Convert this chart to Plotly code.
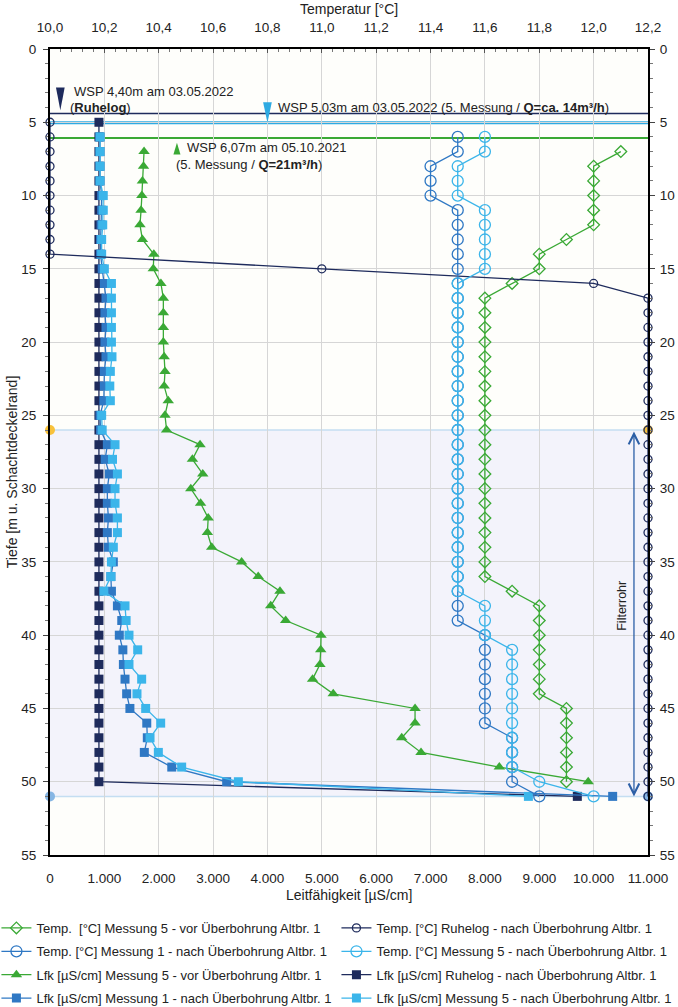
import plotly.graph_objects as go

# ---------------- data ----------------
depth_ruhe = [5, 6, 7, 8, 9, 10, 11, 12, 13, 14, 15, 16, 17, 18, 19, 20, 21, 22, 23, 24, 25, 26, 27, 28,
              29, 30, 31, 32, 33, 34, 35, 36, 37, 38, 39, 40, 41, 42, 43, 44, 45, 46, 47, 48, 49, 50, 51]
depth_nach = [6, 7, 8, 9, 10, 11, 12, 13, 14, 15, 16, 17, 18, 19, 20, 21, 22, 23, 24, 25, 26, 27, 28,
              29, 30, 31, 32, 33, 34, 35, 36, 37, 38, 39, 40, 41, 42, 43, 44, 45, 46, 47, 48, 49, 50, 51]
depth_vor = [7, 8, 9, 10, 11, 12, 13, 14, 15, 16, 17, 18, 19, 20, 21, 22, 23, 24, 25, 26, 27, 28,
             29, 30, 31, 32, 33, 34, 35, 36, 37, 38, 39, 40, 41, 42, 43, 44, 45, 46, 47, 48, 49, 50]

# Temperatur [°C]
temp_m5_vor = [12.1, 12.0, 12.0, 12.0, 12.0, 12.0, 11.9, 11.8, 11.8, 11.7,
               11.6, 11.6, 11.6, 11.6, 11.6, 11.6, 11.6, 11.6, 11.6, 11.6,
               11.6, 11.6, 11.6, 11.6, 11.6, 11.6, 11.6, 11.6, 11.6, 11.6,
               11.7, 11.8, 11.8, 11.8, 11.8, 11.8, 11.8, 11.8,
               11.9, 11.9, 11.9, 11.9, 11.9, 11.9]
temp_ruhe = [10.0, 10.0, 10.0, 10.0, 10.0, 10.0, 10.0, 10.0, 10.0, 10.0, 11.0, 12.0,
             12.2, 12.2, 12.2, 12.2, 12.2, 12.2, 12.2, 12.2, 12.2, 12.2, 12.2, 12.2,
             12.2, 12.2, 12.2, 12.2, 12.2, 12.2, 12.2, 12.2, 12.2, 12.2, 12.2, 12.2,
             12.2, 12.2, 12.2, 12.2, 12.2, 12.2, 12.2, 12.2, 12.2, 12.2, 12.2]
temp_m1_nach = [11.5, 11.5, 11.4, 11.4, 11.4, 11.5, 11.5, 11.5, 11.5, 11.5, 11.5,
                11.5, 11.5, 11.5, 11.5, 11.5, 11.5, 11.5, 11.5, 11.5, 11.5, 11.5,
                11.5, 11.5, 11.5, 11.5, 11.5, 11.5, 11.5, 11.5, 11.5, 11.5, 11.5, 11.5,
                11.6, 11.6, 11.6, 11.6, 11.6, 11.6, 11.6,
                11.7, 11.7, 11.7, 11.7, 11.8]
temp_m5_nach = [11.6, 11.6, 11.5, 11.5, 11.5, 11.6, 11.6, 11.6, 11.6, 11.6,
                11.5, 11.5, 11.5, 11.5, 11.5, 11.5, 11.5, 11.5, 11.5, 11.5, 11.5,
                11.5, 11.5, 11.5, 11.5, 11.5, 11.5, 11.5, 11.5, 11.5, 11.5, 11.5,
                11.6, 11.6, 11.6,
                11.7, 11.7, 11.7, 11.7, 11.7, 11.7, 11.7, 11.7, 11.7,
                11.8, 12.0]

# Leitfähigkeit [µS/cm]
lfk_m5_vor = [1730, 1720, 1700, 1690, 1675, 1655, 1700, 1910, 1900, 2040,
              2085, 2085, 2085, 2085, 2100, 2115, 2100, 2175, 2115, 2145,
              2760, 2620, 2810, 2590, 2770, 2910, 2895, 2975, 3525, 3830,
              4230, 4060, 4335, 4985, 4980, 4965, 4830, 5210, 6715, 6715,
              6470, 6825, 8265, 9900]
lfk_ruhe = [900, 900, 900, 900, 900, 900, 900, 900, 900, 900, 900, 900,
            900, 900, 900, 900, 900, 900, 900, 900, 900, 900, 900, 900,
            900, 900, 900, 900, 900, 900, 900, 900, 900, 900, 900, 900,
            900, 900, 900, 900, 900, 900, 900, 900, 900, 900, 9700]
lfk_m1_nach = [920, 920, 920, 920, 950, 950, 940, 930, 930, 960,
               1000, 1030, 1010, 1030, 1010, 1030, 1000, 1000, 990, 920,
               930, 1055, 1015, 1090, 1055, 1055, 1075, 1055, 1075, 1165,
               1120, 1130, 1240, 1320, 1275, 1340, 1350, 1380, 1410, 1470,
               1780, 1790, 1735, 2240, 3250, 10350]
lfk_m5_nach = [920, 920, 920, 920, 980, 980, 970, 950, 950, 1000,
               1130, 1130, 1130, 1130, 1130, 1140, 1110, 1100, 1110, 950,
               960, 1196, 1150, 1240, 1196, 1196, 1240, 1240, 1165, 1130,
               1120, 990, 1380, 1400, 1453, 1613, 1453, 1686, 1600, 1760,
               2036, 1840, 1993, 2422, 3465, 8800]

# Wasserspiegel / Filterrohr
wsp_depth = [4.40, 5.03, 6.07]
filter_top = 26
filter_bottom = 51

# ticks
lfk_range = [0, 11000]
lfk_ticks = [0, 1000, 2000, 3000, 4000, 5000, 6000, 7000, 8000, 9000, 10000, 11000]
lfk_ticktext = ["0", "1.000", "2.000", "3.000", "4.000", "5.000", "6.000", "7.000",
                "8.000", "9.000", "10.000", "11.000"]
temp_range = [10.0, 12.2]
temp_ticks = [10.0, 10.2, 10.4, 10.6, 10.8, 11.0, 11.2, 11.4, 11.6, 11.8, 12.0, 12.2]
temp_ticktext = ["10,0", "10,2", "10,4", "10,6", "10,8", "11,0", "11,2", "11,4",
                 "11,6", "11,8", "12,0", "12,2"]
depth_range = [55, 0]

# ---------------- styles ----------------
GREEN = "#3aa935"
NAVY = "#1e2b5c"
MID = "#2f78c4"
LIGHT = "#3bb5ea"
FONT = "Liberation Sans, Arial, sans-serif"

fig = go.Figure()


def add(x, y, name, color, symbol, size, xaxis, legend, rank, mlw=1.3):
    fig.add_trace(go.Scatter(
        x=x, y=y, name=name, mode="lines+markers", xaxis=xaxis, yaxis="y",
        line=dict(color=color, width=1.3),
        marker=dict(symbol=symbol, size=size, color=color, line=dict(color=color, width=mlw)),
        cliponaxis=False, legend=legend, legendrank=rank, legendgroup=name,
    ))


# Lfk traces (bottom axis)
add(lfk_m5_vor, depth_vor, "Lfk [µS/cm] Messung 5 - vor Überbohrung Altbr. 1", GREEN, "triangle-up", 10, "x", "legend", 3, 0)
add(lfk_ruhe, depth_ruhe, "Lfk [µS/cm] Ruhelog - nach Überbohrung Altbr. 1", NAVY, "square", 9, "x", "legend2", 3, 0)
add(lfk_m1_nach, depth_nach, "Lfk [µS/cm] Messung 1 - nach Überbohrung Altbr. 1", MID, "square", 9, "x", "legend", 4, 0)
add(lfk_m5_nach, depth_nach, "Lfk [µS/cm] Messung 5 - nach Überbohrung Altbr. 1", LIGHT, "square", 9, "x", "legend2", 4, 0)
# Temperature traces (top axis)
add(temp_m5_vor, depth_vor, "Temp.  [°C] Messung 5 - vor Überbohrung Altbr. 1", GREEN, "diamond-open", 9, "x2", "legend", 1)
add(temp_ruhe, depth_ruhe, "Temp. [°C] Ruhelog - nach Überbohrung Altbr. 1", NAVY, "circle-open", 8, "x2", "legend2", 1)
add(temp_m1_nach, depth_nach, "Temp. [°C] Messung 1 - nach Überbohrung Altbr. 1", MID, "circle-open", 11, "x2", "legend", 2)
add(temp_m5_nach, depth_nach, "Temp. [°C] Messung 5 - nach Überbohrung Altbr. 1", LIGHT, "circle-open", 11, "x2", "legend2", 2)

# filter markers on the axes
fig.add_trace(go.Scatter(x=[lfk_range[0], lfk_range[1]], y=[filter_top, filter_top], mode="markers",
                         xaxis="x", yaxis="y", marker=dict(color="#f8c23c", size=10),
                         cliponaxis=False, showlegend=False, hoverinfo="skip"))
fig.add_trace(go.Scatter(x=[lfk_range[0], lfk_range[1]], y=[filter_bottom, filter_bottom], mode="markers",
                         xaxis="x", yaxis="y", marker=dict(color="#86b6e4", size=10),
                         cliponaxis=False, showlegend=False, hoverinfo="skip"))
# dummy for right axis
fig.add_trace(go.Scatter(x=[None], y=[None], xaxis="x", yaxis="y2", showlegend=False, hoverinfo="skip"))

shapes = []
# filter region
shapes.append(dict(type="rect", xref="paper", x0=0, x1=1, yref="y", y0=filter_top, y1=filter_bottom,
                   fillcolor="#f3f3fb", line=dict(width=0), layer="below"))
for d in (filter_top, filter_bottom):
    shapes.append(dict(type="line", xref="paper", x0=0, x1=1, yref="y", y0=d, y1=d,
                       line=dict(color="#c4def2", width=1.5), layer="between"))
# WSP lines
wsp_colors = [NAVY, "#2eaae2", GREEN]
wsp_widths = [1.5, 3, 2]
for d, c, w in zip(wsp_depth, wsp_colors, wsp_widths):
    shapes.append(dict(type="line", xref="paper", x0=0, x1=1, yref="y", y0=d, y1=d,
                       line=dict(color=c, width=w), layer="between"))

# WSP triangle markers (temp-axis x position, tip offset, height, half width, direction)
tri_x = [10.038, 10.80, 10.467]
tri_tip_off = [-0.22, 0.0, 0.33]
tri_h = [1.55, 1.4, 0.8]
tri_hw = [0.016, 0.016, 0.013]
tri_dir = [-1, -1, 1]  # -1 = pointing down
for d, c, x, off, h, hw, dr in zip(wsp_depth, wsp_colors, tri_x, tri_tip_off, tri_h, tri_hw, tri_dir):
    tip = d + off
    base = tip - h if dr == -1 else tip + h
    shapes.append(dict(type="path", xref="x2", yref="y",
                       path=f"M {x - hw},{base} L {x + hw},{base} L {x},{tip} Z",
                       fillcolor=c, line=dict(width=0), layer="above"))

annotations = []
AF = dict(family=FONT, size=13, color="#222222")
annotations += [
    dict(text="WSP 4,40m am 03.05.2022", x=10.08, y=2.87, xref="x2", yref="y",
         xanchor="left", yanchor="middle", showarrow=False, font=AF),
    dict(text="(<b>Ruhelog</b>)", x=10.068, y=3.98, xref="x2", yref="y",
         xanchor="left", yanchor="middle", showarrow=False, font=AF),
    dict(text="WSP 5,03m am 03.05.2022 (5. Messung / <b>Q=ca. 14m³/h</b>)", x=10.83, y=3.98,
         xref="x2", yref="y", xanchor="left", yanchor="middle", showarrow=False, font=AF),
    dict(text="WSP 6,07m am 05.10.2021", x=10.495, y=6.75, xref="x2", yref="y",
         xanchor="left", yanchor="middle", showarrow=False, font=AF),
    dict(text="(5. Messung / <b>Q=21m³/h</b>)", x=10.455, y=7.9, xref="x2", yref="y",
         xanchor="left", yanchor="middle", showarrow=False, font=AF),
]
# Filterrohr arrow
annotations.append(dict(x=10742, y=filter_bottom, ax=10742, ay=filter_top, xref="x", yref="y",
                        axref="x", ayref="y", text="", showarrow=True, arrowside="end+start",
                        arrowhead=5, startarrowhead=5, arrowsize=1.6, startarrowsize=1.6,
                        arrowwidth=1.3, arrowcolor="#2c5fa6"))
annotations.append(dict(text="Filterrohr", x=10520, y=38, xref="x", yref="y", textangle=-90,
                        showarrow=False, font=dict(family=FONT, size=12.5, color="#222222")))
# axis titles
annotations += [
    dict(text="Temperatur [°C]", x=0.5, y=1.0496, xref="paper", yref="paper",
         showarrow=False, yanchor="middle", font=dict(family=FONT, size=14, color="#222222")),
    dict(text="Leitfähigkeit [µS/cm]", x=0.5, y=-0.0496, xref="paper", yref="paper",
         showarrow=False, yanchor="middle", font=dict(family=FONT, size=14, color="#222222")),
    dict(text="Tiefe [m u. Schachtdeckelrand]", x=-0.0635, y=0.475, xref="paper", yref="paper",
         textangle=-90, showarrow=False, xanchor="center", yanchor="middle",
         font=dict(family=FONT, size=14, color="#222222")),
]

TF = dict(family=FONT, size=13.5, color="#222222")
LF = dict(family=FONT, size=13, color="#222222")
fig.update_layout(
    width=678, height=1007,
    margin=dict(l=50, r=30, t=49, b=152, autoexpand=False),
    paper_bgcolor="white", plot_bgcolor="#fefefb",
    font=dict(family=FONT, color="#222222"),
    shapes=shapes, annotations=annotations,
    xaxis=dict(range=lfk_range, tickvals=lfk_ticks, ticktext=lfk_ticktext, showgrid=True,
               gridcolor="#d6d6d6", gridwidth=1, zeroline=False, showline=True, linecolor="black",
               linewidth=1.5, ticks="", tickfont=TF, ticklabelstandoff=10, anchor="y",
               automargin=False),
    xaxis2=dict(range=temp_range, tickvals=temp_ticks, ticktext=temp_ticktext, overlaying="x",
                side="top", anchor="y", showgrid=False, zeroline=False, showline=True,
                linecolor="black", linewidth=1.5, ticks="inside", ticklen=4, tickcolor="#555555",
                minor=dict(dtick=0.04, tick0=10.0, ticks="inside", ticklen=3, tickcolor="#777777"),
                tickfont=TF, ticklabelstandoff=10, automargin=False),
    yaxis=dict(range=depth_range, dtick=5, tick0=0, showgrid=True, gridcolor="#d6d6d6",
               zeroline=False, showline=True, linecolor="black", linewidth=2.2,
               ticks="outside", ticklen=5, tickcolor="#444444",
               minor=dict(dtick=1, ticks="outside", ticklen=3, tickcolor="#777777"),
               tickfont=TF, ticklabelstandoff=4, automargin=False),
    yaxis2=dict(range=depth_range, dtick=5, tick0=0, overlaying="y", side="right", anchor="x",
                showgrid=False, zeroline=False, showline=True, linecolor="black", linewidth=2.2,
                ticks="outside", ticklen=5, tickcolor="#444444",
                minor=dict(dtick=1, ticks="outside", ticklen=3, tickcolor="#777777"),
                tickfont=TF, ticklabelstandoff=2, automargin=False),
    legend=dict(orientation="v", x=-0.0896, xanchor="left", y=-0.0719, yanchor="top",
                font=LF, bgcolor="rgba(0,0,0,0)", traceorder="grouped", tracegroupgap=3.5),
    legend2=dict(orientation="v", x=0.479, xanchor="left", y=-0.0719, yanchor="top",
                 font=LF, bgcolor="rgba(0,0,0,0)", traceorder="grouped", tracegroupgap=3.5),
    showlegend=True,
)

# remove the browser's default 8px body margin so the figure fills the window exactly
fig.write_html("out.html", config={"displayModeBar": False},
               post_script="document.body.style.margin='0px';")
